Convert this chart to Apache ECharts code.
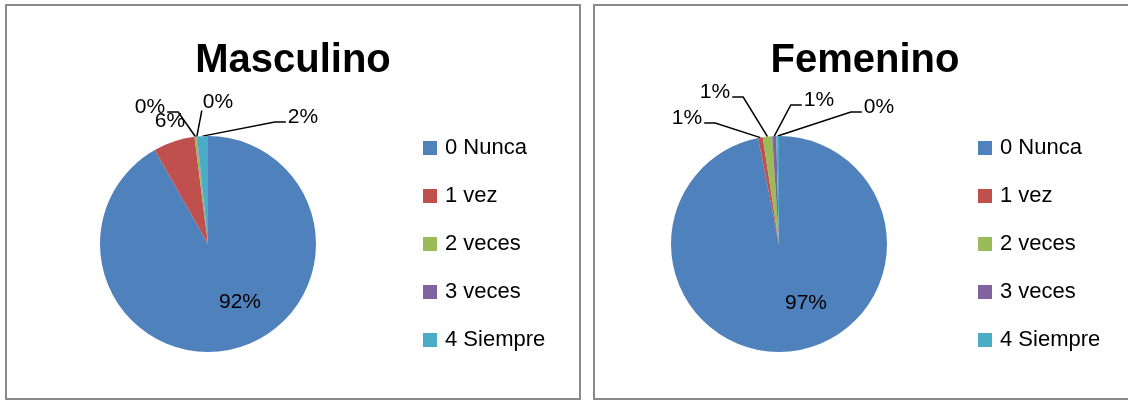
<!DOCTYPE html>
<html>
<head>
<meta charset="utf-8">
<script src="https://cdn.jsdelivr.net/npm/echarts@6/dist/echarts.min.js"></script>
<style>
  html, body { margin: 0; padding: 0; background: #fff; }
  #main { width: 1128px; height: 400px; }
</style>
</head>
<body>
<div id="main"></div>
<script>
// categorias y porcentajes
var categorias = ['0 Nunca', '1 vez', '2 veces', '3 veces', '4 Siempre'];
var masculino = [91.8, 6.2, 0.3, 0.1, 1.6];
var femenino = [96.9, 0.7, 1.4, 0.6, 0.4];
var titulos = ['Masculino', 'Femenino'];

var colores = ['#4F81BD', '#C0504D', '#9BBB59', '#8064A2', '#4BACC6'];
var fuente = '"Liberation Sans", Arial, sans-serif';

var myChart = echarts.init(document.getElementById('main'));

// centro y radio de cada torta
var centros = [[208, 244], [779, 244]];
var radio = 108;
// posicion de las etiquetas respecto al centro + tipo de linea guia
// 'h' = sale por el costado, 'v' = sale por abajo, '' = sin linea
var offs = [
    [[32, 58, ''], [-38, -123, ''], [-58, -137, 'h'], [10, -142, 'v'], [95, -127, 'h']],
    [[27, 59, ''], [-92, -126, 'h'], [-64, -152, 'h'], [40, -144, 'h'], [100, -137, 'h']]
];

// angulo medio de cada porcion (grados, horario desde arriba)
function angulosMedios(valores) {
    var tot = 0, acc = 0, r = [];
    for (var i = 0; i < valores.length; i++) tot += valores[i];
    for (var j = 0; j < valores.length; j++) {
        r.push((acc + valores[j] / 2) / tot * 360);
        acc += valores[j];
    }
    return r;
}

function armarDatos(idx, valores) {
    var d = [];
    for (var i = 0; i < valores.length; i++) {
        d.push({
            name: categorias[i],
            value: valores[i],
            label: i == 0 ? { position: 'inside' } : { position: 'outside' },
            labelLine: { show: offs[idx][i][2] != '' }
        });
    }
    return d;
}

function serie(idx, valores) {
    var medios = angulosMedios(valores);
    return {
        name: titulos[idx],
        type: 'pie',
        center: centros[idx],
        radius: radio,
        startAngle: 90,
        clockwise: true,
        avoidLabelOverlap: false,
        itemStyle: { borderWidth: 0 },
        emphasis: { scale: false },
        label: {
            color: '#000',
            fontFamily: fuente,
            fontSize: 21,
            formatter: function (p) { return Math.round(p.value) + '%'; }
        },
        labelLine: {
            lineStyle: { color: '#000', width: 1.5 },
            length: 10,
            length2: 10
        },
        labelLayout: function (p) {
            var o = offs[idx][p.dataIndex];
            var c = centros[idx];
            var lx = c[0] + o[0], ly = c[1] + o[1];
            var res = { x: lx, y: ly, align: 'center', verticalAlign: 'middle' };
            if (o[2] == '') return res;
            var a = medios[p.dataIndex] * Math.PI / 180;
            var sx = c[0] + radio * Math.sin(a), sy = c[1] - radio * Math.cos(a);
            var hw = p.labelRect.width / 2 + 2;
            var hh = p.labelRect.height / 2;
            if (o[2] == 'v') {
                res.labelLinePoints = [[sx, sy], [lx - hw + 1, ly + hh - 2]];
                return res;
            }
            var ex, mx, ey = ly + 5;
            if (lx > sx) { ex = lx - hw; mx = ex - 11; }
            else { ex = lx + hw; mx = ex + 11; }
            res.labelLinePoints = [[sx, sy], [mx, ey], [ex, ey]];
            return res;
        },
        data: armarDatos(idx, valores)
    };
}

function leyenda(x) {
    return {
        orient: 'vertical',
        left: x,
        top: 137,
        icon: 'rect',
        itemWidth: 14,
        itemHeight: 14,
        itemGap: 26,
        padding: 0,
        textStyle: { fontFamily: fuente, fontSize: 22, lineHeight: 22, color: '#000', padding: [0, 0, 0, 3] },
        data: categorias
    };
}

option = {
    animation: false,
    color: colores,
    title: [
        { text: titulos[0], left: 293, top: 41, textAlign: 'center', padding: 0,
          textStyle: { fontFamily: fuente, fontSize: 40, fontWeight: 'bold', color: '#000' } },
        { text: titulos[1], left: 865, top: 41, textAlign: 'center', padding: 0,
          textStyle: { fontFamily: fuente, fontSize: 40, fontWeight: 'bold', color: '#000' } }
    ],
    legend: [leyenda(423), leyenda(978)],
    graphic: [
        { type: 'rect', shape: { x: 6, y: 5, width: 574, height: 394 },
          style: { fill: 'none', stroke: '#8a8a8a', lineWidth: 2 }, silent: true },
        { type: 'rect', shape: { x: 594, y: 5, width: 560, height: 394 },
          style: { fill: 'none', stroke: '#8a8a8a', lineWidth: 2 }, silent: true }
    ],
    series: [serie(0, masculino), serie(1, femenino)]
};

myChart.setOption(option);
</script>
</body>
</html>
